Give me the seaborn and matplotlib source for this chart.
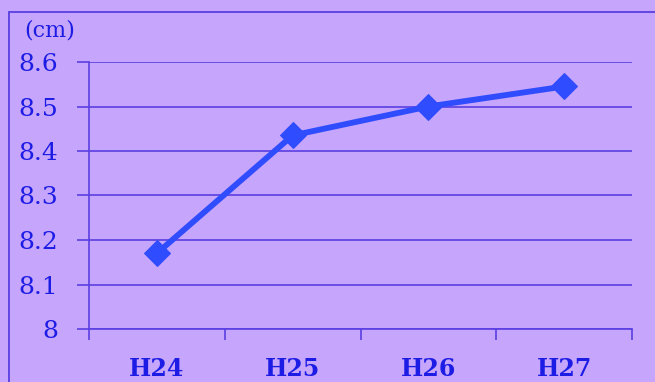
import matplotlib
matplotlib.use("Agg")
import matplotlib.pyplot as plt
from matplotlib.patches import Rectangle
from matplotlib.ticker import FixedLocator, NullFormatter
import pandas as pd
import seaborn as sns

# Average value per fiscal year (cm)
years = ["H24", "H25", "H26", "H27"]
values = [8.17, 8.435, 8.50, 8.545]
y_ticks = [8.0, 8.1, 8.2, 8.3, 8.4, 8.5, 8.6]
y_tick_labels = ["8", "8.1", "8.2", "8.3", "8.4", "8.5", "8.6"]
unit_label = "(cm)"

BG = "#c6a5fc"
TEXT = "#1c1ce4"
GRID = "#5a3fe2"
LINE = "#2f4cff"

sns.set_theme(style="white")
plt.rcParams["font.family"] = ["DejaVu Serif", "Liberation Serif"]

W, H, DPI = 655, 382, 100
fig = plt.figure(figsize=(W / DPI, H / DPI), dpi=DPI, facecolor=BG)
ax = fig.add_axes([89 / W, 1 - 329 / H, (632 - 89) / W, (329 - 62) / H])
ax.set_facecolor(BG)

df = pd.DataFrame({"year": years, "value": values})
sns.lineplot(data=df, x="year", y="value", ax=ax, color=LINE, linewidth=4.2,
             marker="D", markersize=13, markeredgecolor=LINE, markerfacecolor=LINE,
             sort=False, zorder=5, clip_on=False)

ax.set_xlim(-0.5, len(years) - 0.5)
ax.set_ylim(y_ticks[0], y_ticks[-1])

# horizontal gridlines
ax.set_yticks(y_ticks)
ax.set_yticklabels(y_tick_labels)
ax.yaxis.grid(True, color=GRID, linewidth=1.2)
ax.xaxis.grid(False)

# category boundaries as major ticks, labels centred on minor ticks
ax.xaxis.set_major_locator(FixedLocator([i - 0.5 for i in range(len(years) + 1)]))
ax.xaxis.set_major_formatter(NullFormatter())
ax.xaxis.set_minor_locator(FixedLocator(list(range(len(years)))))
ax.set_xticklabels(years, minor=True)
ax.tick_params(axis="x", which="major", direction="out", length=8, width=1.2,
               color=GRID, bottom=True)
ax.tick_params(axis="x", which="minor", length=0, pad=20, labelsize=17,
               labelcolor=TEXT)
for lbl in ax.get_xticklabels(minor=True):
    lbl.set_fontweight("bold")
ax.tick_params(axis="y", direction="out", length=9, width=1.2, color=GRID,
               left=True, pad=13, labelsize=18, labelcolor=TEXT)

for side in ("top", "right"):
    ax.spines[side].set_visible(False)
for side in ("left", "bottom"):
    ax.spines[side].set_color(GRID)
    ax.spines[side].set_linewidth(1.2)

ax.set_xlabel("")
ax.set_ylabel("")

fig.text(24 / W, 1 - 30 / H, unit_label, color=TEXT, fontsize=16,
         ha="left", va="center")

# outer chart frame
fig.add_artist(Rectangle((9 / W, -0.1), 1.2, 1 - 12 / H + 0.1,
                         transform=fig.transFigure, fill=False,
                         edgecolor=GRID, linewidth=1.3))

fig.savefig("out.png", dpi=DPI, facecolor=BG)
